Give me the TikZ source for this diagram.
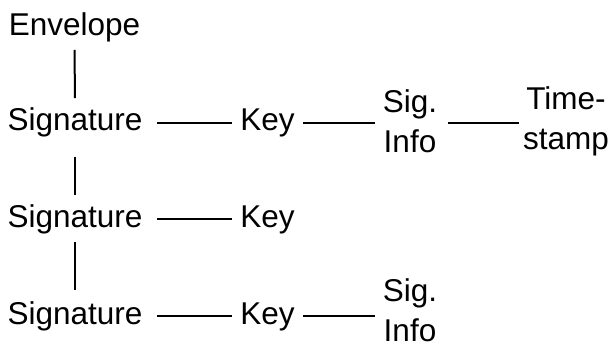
\documentclass[tikz,border=0pt]{standalone}
\usepackage{fontspec}
\setmainfont{Liberation Sans}
\begin{document}
\begin{tikzpicture}[x=1pt,y=-1pt,
  lbl/.style={inner sep=0pt, outer sep=0pt, font=\fontsize{31.5}{40}\selectfont, anchor=base},
  two/.style={lbl, anchor=center, align=center},
  conn/.style={line width=2pt, black}]
\useasboundingbox (0,0) rectangle (610,343);
% nodes
\node[lbl] (env) at (74.5,35) {Envelope};
\node[lbl] (s1) at (75,130) {Signature};
\node[lbl] (k1) at (267.5,130) {Key};
\node[two] (si1) at (410,121) {Sig.\\Info};
\node[two] (ts1) at (566,121) {Time-\\stamp};
\node[lbl] (s2) at (75,227) {Signature};
\node[lbl] (k2) at (267.5,227) {Key};
\node[lbl] (s3) at (75,324) {Signature};
\node[lbl] (k3) at (267.5,324) {Key};
\node[two] (si3) at (410,310.5) {Sig.\\Info};
% rows
\coordinate (r1) at (0,122.5);
\coordinate (r2) at (0,219);
\coordinate (r3) at (0,315.5);
% vertical connectors
\draw[conn, shorten <=8.4pt, shorten >=9pt] (env.south) -- (s1.north);
\draw[conn, shorten <=20pt, shorten >=9pt] (s1.south) -- (s2.north);
\draw[conn, shorten <=8.4pt, shorten >=11pt] (s2.south) -- (s3.north);
% horizontal connectors
\draw[conn, shorten <=14.5pt, shorten >=8pt] (s1.east |- r1) -- (k1.west |- r1);
\draw[conn, shorten <=8.5pt, shorten >=8pt] (k1.east |- r1) -- (si1.west |- r1);
\draw[conn, shorten <=11pt, shorten >=4pt] (si1.east |- r1) -- (ts1.west |- r1);
\draw[conn, shorten <=14.5pt, shorten >=8pt] (s2.east |- r2) -- (k2.west |- r2);
\draw[conn, shorten <=14.5pt, shorten >=8pt] (s3.east |- r3) -- (k3.west |- r3);
\draw[conn, shorten <=8.5pt, shorten >=8pt] (k3.east |- r3) -- (si3.west |- r3);
\end{tikzpicture}
\end{document}
